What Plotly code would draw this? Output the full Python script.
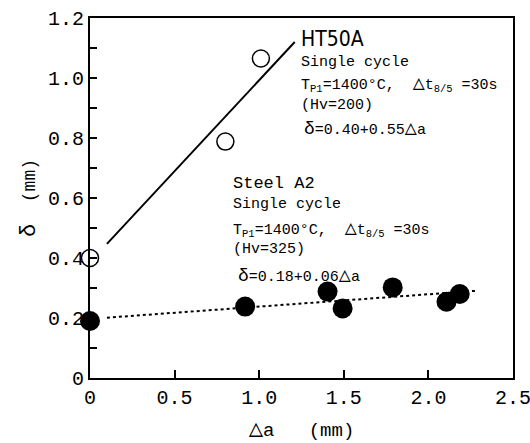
import plotly.graph_objects as go

# HT50A (open circles) and fitted line as drawn
ht_x = [0.0, 0.80, 1.01]
ht_y = [0.40, 0.788, 1.065]
ht_line_x = [0.10, 1.21]
ht_line_y = [0.447, 1.12]

# Steel A2 (filled circles) and fitted dotted line
a2_x = [0.0, 0.917, 1.404, 1.493, 1.789, 2.107, 2.185]
a2_y = [0.19, 0.238, 0.288, 0.232, 0.302, 0.254, 0.28]
a2_line_x = [0.10, 2.29]
a2_line_y = [0.201, 0.291]

x_ticks = [0, 0.5, 1.0, 1.5, 2.0, 2.5]
x_ticktext = ["0", "0.5", "1.0", "1.5", "2.0", "2.5"]
y_ticks = [0, 0.2, 0.4, 0.6, 0.8, 1.0, 1.2]
y_ticktext = ["0", "0.2", "0.4", "0.6", "0.8", "1.0", "1.2"]

MONO = "Liberation Mono, DejaVu Sans Mono, monospace"
NARROW = "Liberation Sans Narrow, DejaVu Sans Condensed, Liberation Sans, sans-serif"

TRI = "<span style='font-size:20px'>△</span>"
DEL = "<span style='font-size:18px'>δ</span>"

fig = go.Figure()
fig.add_trace(go.Scatter(x=ht_line_x, y=ht_line_y, mode="lines",
                         line=dict(color="black", width=2), showlegend=False))
fig.add_trace(go.Scatter(x=a2_line_x, y=a2_line_y, mode="lines",
                         line=dict(color="black", width=2, dash="3px,3px"), showlegend=False))
fig.add_trace(go.Scatter(x=ht_x, y=ht_y, mode="markers", cliponaxis=False,
                         marker=dict(symbol="circle-open", size=17, color="black",
                                     line=dict(width=1.5, color="black")), showlegend=False))
fig.add_trace(go.Scatter(x=a2_x, y=a2_y, mode="markers", cliponaxis=False,
                         marker=dict(symbol="circle", size=20, color="black"), showlegend=False))

def ann(x, y, text, size, family):
    fig.add_annotation(x=x, y=y, xref="x", yref="y", text=text, showarrow=False,
                       xanchor="left", yanchor="middle",
                       font=dict(family=family, size=size, color="black"))

tp_line = "T<sub>P1</sub>=1400°C,  " + TRI + "t<sub>8/5</sub> =30s"

ann(1.235, 1.13, "HT50A", 21, NARROW)
ann(1.235, 1.051, "Single cycle", 15, MONO)
ann(1.235, 0.982, tp_line, 15, MONO)
ann(1.235, 0.91, "(Hv=200)", 15, MONO)
ann(1.255, 0.832, DEL + "=0.40+0.55" + TRI + "a", 15, MONO)

ann(0.835, 0.649, "Steel A2", 17, MONO)
ann(0.835, 0.577, "Single cycle", 15, MONO)
ann(0.835, 0.499, tp_line, 15, MONO)
ann(0.835, 0.429, "(Hv=325)", 15, MONO)
ann(0.86, 0.343, DEL + "=0.18+0.06" + TRI + "a", 15, MONO)

fig.update_layout(
    width=530, height=443,
    margin=dict(l=90, r=17, t=18, b=65),
    paper_bgcolor="white", plot_bgcolor="white",
    font=dict(family=MONO, color="black"),
    xaxis=dict(range=[0, 2.5], tickvals=x_ticks, ticktext=x_ticktext,
               ticks="inside", ticklen=8, tickwidth=1.5, tickcolor="black",
               ticklabeloverflow="allow", automargin=False,
               showline=True, linecolor="black", linewidth=2, mirror=True,
               showgrid=False, zeroline=False,
               tickfont=dict(size=20, family=MONO),
               title=dict(text="<span style='font-size:24px'>△</span>a   (mm)",
                          font=dict(size=19, family=MONO), standoff=14)),
    yaxis=dict(range=[0, 1.2], tickvals=y_ticks, ticktext=y_ticktext,
               ticks="inside", ticklen=7, tickwidth=1.5, tickcolor="black",
               ticklabeloverflow="allow", automargin=False,
               minor=dict(dtick=0.1, ticks="inside", ticklen=7, tickwidth=1.5, tickcolor="black"),
               showline=True, linecolor="black", linewidth=2, mirror=True,
               showgrid=False, zeroline=False,
               tickfont=dict(size=20, family=MONO),
               title=dict(text="<span style='font-size:22px'>δ</span>  (mm)",
                          font=dict(size=18, family=MONO), standoff=8)),
)

fig.write_html("out.html")
